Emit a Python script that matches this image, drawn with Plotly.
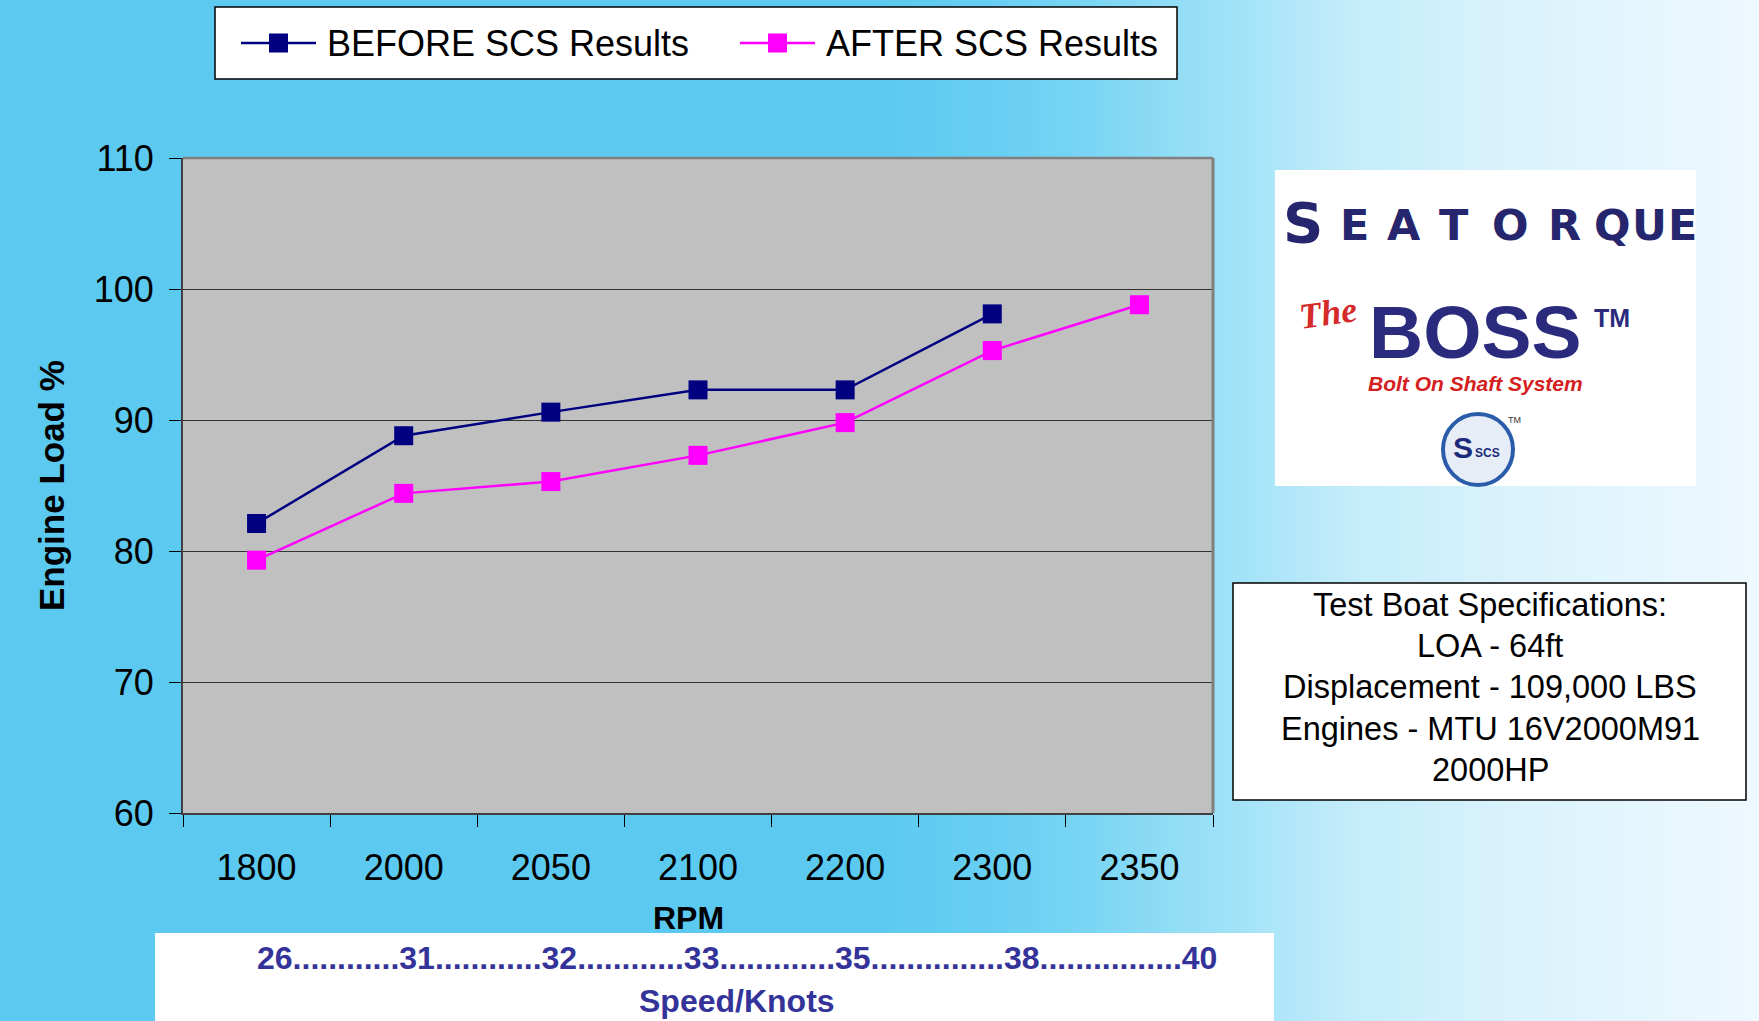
import plotly.graph_objects as go

# ---------------- data ----------------
rpm = ["1800", "2000", "2050", "2100", "2200", "2300", "2350"]
before_scs = [82.1, 88.8, 90.6, 92.3, 92.3, 98.1, None]
after_scs = [79.3, 84.4, 85.3, 87.3, 89.8, 95.3, 98.8]
speed_knots = [26, 31, 32, 33, 35, 38, 40]
speed_gaps = [12, 12, 12, 13, 15, 16]          # dots between speed labels
y_ticks = [60, 70, 80, 90, 100, 110]
spec_lines = ["Test Boat Specifications:", "LOA - 64ft",
              "Displacement - 109,000 LBS", "Engines - MTU 16V2000M91", "2000HP"]
series_names = ["BEFORE SCS Results", "AFTER SCS Results"]

W, H = 1759, 1021
L, R, T, B = 183, 1213, 158, 813
FONT = "Liberation Sans, Arial, sans-serif"
NAVY = "#000080"
MAG = "#FF00FF"
colors = [NAVY, MAG]


def fx(x):
    return (x - L) / (R - L)


def fy(y):
    return (B - y) / (B - T)


fig = go.Figure()
for name, vals, c in zip(series_names, [before_scs, after_scs], colors):
    fig.add_trace(go.Scatter(x=rpm, y=vals, name=name, mode="lines+markers",
                             line=dict(color=c, width=2.5),
                             marker=dict(symbol="square", size=19, color=c)))

shapes = []
# background gradient on the right side
stops = [(0, (92, 202, 240)), (880, (92, 202, 240)), (1000, (104, 207, 242)), (1100, (125, 214, 244)),
         (1230, (160, 226, 247)), (1350, (195, 236, 250)), (1500, (216, 242, 252)), (1759, (238, 249, 254))]


def col_at(x):
    for (x0, c0), (x1, c1) in zip(stops[:-1], stops[1:]):
        if x0 <= x <= x1:
            t = (x - x0) / (x1 - x0) if x1 > x0 else 0
            return "rgb(%d,%d,%d)" % tuple(round(a + (b - a) * t) for a, b in zip(c0, c1))
    return "rgb(238,249,254)"


step = 8
for x0 in range(880, W, step):
    shapes.append(dict(type="rect", xref="paper", yref="paper", x0=fx(x0), x1=fx(x0 + step + 1),
                       y0=fy(H + 2), y1=fy(-2), line=dict(width=0), fillcolor=col_at(x0 + step / 2),
                       layer="below"))
# plot area
shapes.append(dict(type="rect", xref="x domain", yref="y domain", x0=0, x1=1, y0=0, y1=1,
                   line=dict(width=0), fillcolor="#C0C0C0", layer="below"))
shapes.append(dict(type="line", xref="x domain", yref="y domain", x0=0, x1=1, y0=1, y1=1,
                   line=dict(color="#808080", width=2.5), layer="above"))
shapes.append(dict(type="line", xref="x domain", yref="y domain", x0=1, x1=1, y0=0, y1=1,
                   line=dict(color="#808080", width=3), layer="above"))
# bottom white speed strip
shapes.append(dict(type="rect", xref="paper", yref="paper", x0=fx(155), x1=fx(1274), y0=fy(H + 2), y1=fy(933),
                   line=dict(width=0), fillcolor="white", layer="below"))
# legend box
shapes.append(dict(type="rect", xref="paper", yref="paper", x0=fx(215), x1=fx(1177), y0=fy(79), y1=fy(7),
                   line=dict(color="black", width=1.5), fillcolor="white", layer="above"))
leg_x = [241, 740]
for lx, c in zip(leg_x, colors):
    shapes.append(dict(type="line", xref="paper", yref="paper", x0=fx(lx), x1=fx(lx + 75), y0=fy(43), y1=fy(43),
                       line=dict(color=c, width=2.5), layer="above"))
    shapes.append(dict(type="rect", xref="paper", yref="paper", x0=fx(lx + 28), x1=fx(lx + 47),
                       y0=fy(52.5), y1=fy(33.5), line=dict(width=0), fillcolor=c, layer="above"))
# logo box
shapes.append(dict(type="rect", xref="paper", yref="paper", x0=fx(1275), x1=fx(1696), y0=fy(486), y1=fy(170),
                   line=dict(width=0), fillcolor="white", layer="below"))
# SCS circle
shapes.append(dict(type="circle", xref="paper", yref="paper", x0=fx(1443), x1=fx(1513), y0=fy(485), y1=fy(414),
                   line=dict(color="#2a5caa", width=4), fillcolor="#e6edf7", layer="above"))
# spec box
shapes.append(dict(type="rect", xref="paper", yref="paper", x0=fx(1233), x1=fx(1746), y0=fy(800), y1=fy(583),
                   line=dict(color="black", width=1.5), fillcolor="white", layer="below"))

ann = []


def add(text, x, y, size, color="black", family=FONT, xanchor="center", yanchor="middle", angle=0):
    ann.append(dict(text=text, x=fx(x), y=fy(y), xref="paper", yref="paper", showarrow=False,
                    xanchor=xanchor, yanchor=yanchor, textangle=angle,
                    font=dict(size=size, color=color, family=family)))


# legend texts
for lx, name in zip(leg_x, series_names):
    add(name, lx + 84, 43, 36, xanchor="left")
# axis titles
add("<b>Engine Load %</b>", 51, 486, 35, angle=-90)
add("<b>RPM</b>", 688, 918, 32)
# speed strip
speed_text = str(speed_knots[0])
for g, s in zip(speed_gaps, speed_knots[1:]):
    speed_text += "." * g + str(s)
add("<b>" + speed_text + "</b>", 737, 958, 32, color="#333399")
add("<b>Speed/Knots</b>", 737, 1001, 32, color="#333399")
# spec text
for i, line in enumerate(spec_lines):
    add(line, 1490, 605 + i * 41.2, 32.5)

# logo texts
letters = list("SEATORQUE")
centers = [1303, 1354, 1404, 1454, 1510, 1564, 1612, 1649, 1682]
for i, (ch, cx) in enumerate(zip(letters, centers)):
    size, cy = (56, 222) if i == 0 else (43, 225)
    add("<b>" + ch + "</b>", cx, cy, size, color="#26266e", family="DejaVu Sans")
add("<i><b>The</b></i>", 1328, 313, 36, color="#d42a2a", family="Liberation Serif, serif", angle=-8)
add("<b>BOSS</b>", 1475, 332, 75, color="#2b2b7e")
add("<b>TM</b>", 1612, 318, 25, color="#2b2b7e")
add("<b><i>Bolt On Shaft System</i></b>", 1475, 383, 21, color="#d42020")
add("<b>S</b>", 1463, 447, 30, color="#1c2a7a")
add("<b>SCS</b>", 1487, 453, 12, color="#1c2a7a")
add("TM", 1514, 420, 9, color="#333")

fig.update_layout(
    width=W, height=H,
    margin=dict(l=L, r=W - R, t=T, b=H - B, pad=0),
    paper_bgcolor="rgb(92,202,240)",
    plot_bgcolor="#C0C0C0",
    font=dict(family=FONT, size=36, color="black"),
    shapes=shapes,
    annotations=ann,
    showlegend=False,
    xaxis=dict(type="category", categoryorder="array", categoryarray=rpm, range=[-0.5, 6.5],
               tickson="boundaries", ticks="outside", ticklen=12, tickcolor="black", tickwidth=1,
               showgrid=False, showline=True, linecolor="#404040", linewidth=2,
               ticklabelstandoff=22, tickfont=dict(size=36, family=FONT, color="black")),
    yaxis=dict(range=[60, 110], tickvals=y_ticks, ticks="outside", ticklen=12, tickcolor="black",
               tickwidth=1, showgrid=True, gridcolor="#333333", gridwidth=1, zeroline=False,
               showline=True, linecolor="#404040", linewidth=2, ticklabelstandoff=8,
               tickfont=dict(size=36, family=FONT, color="black")),
)

fig.write_html("out.html", config={"displayModeBar": False},
               post_script="document.body.style.margin='0';document.body.style.padding='0';"
                           "document.body.style.overflow='hidden';")
